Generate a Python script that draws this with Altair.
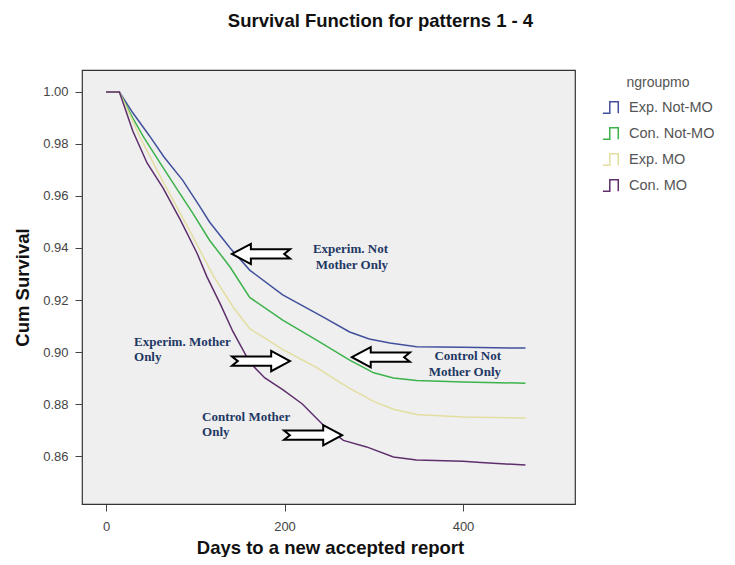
import altair as alt
import pandas as pd

groups = ["Exp. Not-MO", "Con. Not-MO", "Exp. MO", "Con. MO"]
colors = ["#41509c", "#3cb24a", "#e3dea0", "#5e2f6b"]

days_exp_not = [0, 15, 30, 49, 65, 86, 105, 116, 139, 161, 198, 243, 273, 295, 318, 348, 400, 470]
surv_exp_not = [1.0, 1.0, 0.992, 0.983, 0.975, 0.966, 0.956, 0.950, 0.940, 0.9315, 0.922, 0.9135,
                0.9077, 0.905, 0.9035, 0.902, 0.9018, 0.9015]

days_con_not = [0, 15, 30, 42, 60, 77, 97, 116, 139, 161, 198, 236, 273, 300, 322, 348, 400, 470]
surv_con_not = [1.0, 1.0, 0.99, 0.9827, 0.973, 0.964, 0.9535, 0.943, 0.9327, 0.921, 0.9123, 0.9046,
                0.8969, 0.892, 0.890, 0.889, 0.8885, 0.888]

days_exp_mo = [0, 15, 38, 60, 94, 120, 142, 161, 198, 236, 259, 273, 300, 322, 348, 400, 470]
surv_exp_mo = [1.0, 1.0, 0.9827, 0.968, 0.9465, 0.9295, 0.9175, 0.909, 0.901, 0.894, 0.889, 0.886,
               0.881, 0.878, 0.876, 0.875, 0.8746]

days_con_mo = [0, 15, 30, 46, 64, 83, 102, 113, 128, 142, 161, 178, 198, 220, 243, 266, 292, 322,
               348, 400, 420, 470]
surv_con_mo = [1.0, 1.0, 0.985, 0.9727, 0.963, 0.951, 0.938, 0.929, 0.9185, 0.908, 0.896, 0.890,
               0.8855, 0.880, 0.872, 0.866, 0.8635, 0.8596, 0.8585, 0.858, 0.8575, 0.8565]

y_ticks = [0.86, 0.88, 0.90, 0.92, 0.94, 0.96, 0.98, 1.00]
x_ticks = [0, 200, 400]

# annotations
arrow_dir = ["left", "right", "left", "right"]
arrow_day = [173.7, 173.7, 308, 232]
arrow_surv = [0.9377, 0.8965, 0.898, 0.868]

ann_text = ["Experim. Not", "Mother Only", "Experim. Mother", "Only",
            "Control Not", "Mother Only", "Control Mother", "Only"]
ann_day = [316, 316, 31.4, 31.4, 442.6, 442.6, 107.6, 107.6]
ann_surv = [0.9396, 0.9335, 0.9040, 0.8981, 0.8985, 0.8924, 0.8751, 0.8692]
ann_align = ["right", "right", "left", "left", "right", "right", "left", "left"]

rows = []
for g, ds, ss in zip(groups,
                     [days_exp_not, days_con_not, days_exp_mo, days_con_mo],
                     [surv_exp_not, surv_con_not, surv_exp_mo, surv_con_mo]):
    for d, s in zip(ds, ss):
        rows.append({"group": g, "day": d, "surv": s})
df = pd.DataFrame(rows)

arrows = pd.DataFrame({"dir": arrow_dir, "day": arrow_day, "surv": arrow_surv})
ann = pd.DataFrame({"text": ann_text, "day": ann_day, "surv": ann_surv, "align": ann_align})

xscale = alt.Scale(domain=[-26.9, 525.5], nice=False, zero=False)
yscale = alt.Scale(domain=[0.84154, 1.00846], nice=False, zero=False)

xaxis = alt.Axis(values=x_ticks, title="Days to a new accepted report", grid=False, domain=False,
                 tickSize=7, tickColor="#444", labelPadding=9, labelFontSize=13, labelColor="#444",
                 labelFont="Liberation Sans", titleFont="Liberation Sans", titleFontSize=18.5,
                 titleFontWeight="bold", titleColor="#111", titleX=248, titleY=43,
                 titleBaseline="middle", titleAlign="center")
yaxis = alt.Axis(values=y_ticks, format=".2f", title="Cum Survival", grid=False, domain=False,
                 tickSize=7, tickColor="#444", labelPadding=7, labelFontSize=13, labelColor="#444",
                 labelFont="Liberation Sans", titleFont="Liberation Sans", titleFontSize=18.5,
                 titleFontWeight="bold", titleColor="#111", titleX=-60, titleY=217, titleAngle=270,
                 titleBaseline="middle", titleAlign="center")

step_path = "M -1 0.55 L -0.35 0.55 L -0.35 -0.55 L 0.45 -0.55 L 0.45 0.55"

lines = alt.Chart(df).mark_line(strokeWidth=1.5).encode(
    x=alt.X("day:Q", scale=xscale, axis=xaxis),
    y=alt.Y("surv:Q", scale=yscale, axis=yaxis),
    color=alt.Color("group:N", scale=alt.Scale(domain=groups, range=colors),
                    legend=alt.Legend(title="ngroupmo", orient="none", legendX=520, legendY=6,
                                      symbolType=step_path, symbolSize=450, symbolStrokeWidth=1.5,
                                      symbolFillColor="transparent", labelFontSize=14.5,
                                      labelFont="Liberation Sans", labelColor="#555",
                                      titleFont="Liberation Sans", titleFontSize=14,
                                      titleFontWeight="normal", titleColor="#555",
                                      titleAnchor="middle", rowPadding=5, titlePadding=6)),
)

left_path = "M -1 0 L -0.35 -0.35 L -0.35 -0.16 L 1 -0.16 L 0.8 0 L 1 0.16 L -0.35 0.16 L -0.35 0.35 Z"
right_path = "M 1 0 L 0.35 -0.35 L 0.35 -0.16 L -1 -0.16 L -0.8 0 L -1 0.16 L 0.35 0.16 L 0.35 0.35 Z"

arr_l = alt.Chart(arrows[arrows["dir"] == "left"]).mark_point(
    shape=left_path, size=3364, filled=True, fill="white", stroke="black", strokeWidth=2, opacity=1
).encode(x=alt.X("day:Q", scale=xscale), y=alt.Y("surv:Q", scale=yscale))
arr_r = alt.Chart(arrows[arrows["dir"] == "right"]).mark_point(
    shape=right_path, size=3364, filled=True, fill="white", stroke="black", strokeWidth=2, opacity=1
).encode(x=alt.X("day:Q", scale=xscale), y=alt.Y("surv:Q", scale=yscale))

txt_l = alt.Chart(ann[ann["align"] == "left"]).mark_text(
    align="left", baseline="middle", font="Liberation Serif", fontWeight="bold", fontSize=13,
    color="#1f3864"
).encode(x=alt.X("day:Q", scale=xscale), y=alt.Y("surv:Q", scale=yscale), text="text:N")
txt_r = alt.Chart(ann[ann["align"] == "right"]).mark_text(
    align="right", baseline="middle", font="Liberation Serif", fontWeight="bold", fontSize=13,
    color="#1f3864"
).encode(x=alt.X("day:Q", scale=xscale), y=alt.Y("surv:Q", scale=yscale), text="text:N")

chart = alt.layer(lines, arr_l, arr_r, txt_l, txt_r).properties(
    width=493, height=434,
    title=alt.TitleParams("Survival Function for patterns 1 - 4", font="Liberation Sans", fontSize=18.5,
                          fontWeight="bold", color="#111", dx=52, offset=40),
    autosize=alt.AutoSizeParams(type="none"),
    padding={"left": 74, "top": 62, "right": 152, "bottom": 53},
    background="white",
).configure_view(stroke="#333333", strokeWidth=1.2, fill="#efefef")

chart.save("out.html", embed_options={"renderer": "svg", "actions": False})
